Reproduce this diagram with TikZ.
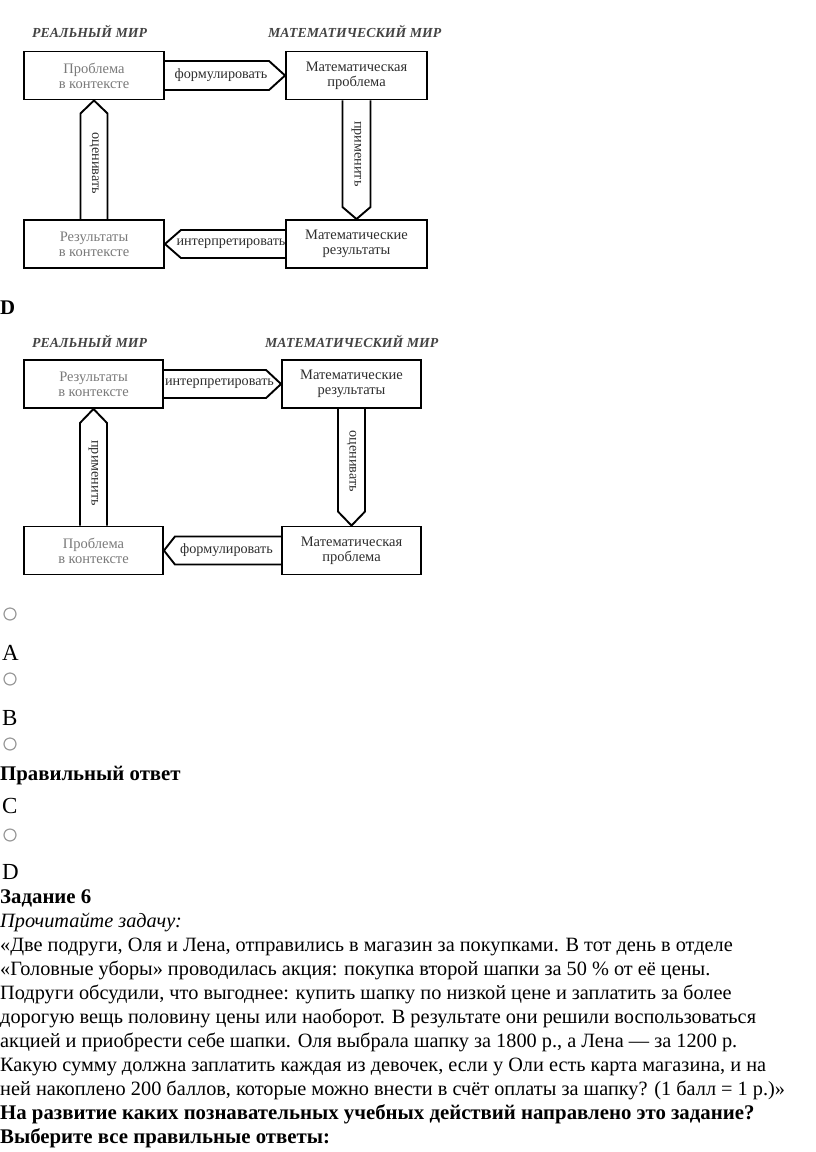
\documentclass[tikz,border=0pt]{standalone}
\usepackage{fontspec}
\setmainfont{Liberation Serif}
\usetikzlibrary{calc}
\definecolor{realtxt}{HTML}{7A7A7A}
\definecolor{mathtxt}{HTML}{2E2E2E}
\definecolor{hdrtxt}{HTML}{444444}
\definecolor{radio}{HTML}{9A9A9A}
\begin{document}
\begin{tikzpicture}[x=1pt,y=-1pt,
  box/.style={draw, line width=1.9pt, minimum width=140pt, minimum height=48pt, inner sep=0pt, align=center, fill=white, font=\fontsize{14.5}{15}\selectfont},
  realbox/.style={box, text=realtxt},
  mathbox/.style={box, text=mathtxt},
  arr/.style={draw, line width=1.9pt, line join=miter},
  lbl/.style={inner sep=0pt, text=mathtxt, font=\fontsize{14.2}{15}\selectfont},
  hdr/.style={inner sep=0pt, anchor=base west, text=hdrtxt, font=\fontsize{13.8}{15}\selectfont\bfseries\itshape},
  txt/.style={inner sep=0pt, anchor=base west, font=\fontsize{20.3}{24}\selectfont},
  btxt/.style={txt, font=\fontsize{20.8}{24}\selectfont\bfseries},
  letter/.style={inner sep=0pt, anchor=base west, font=\fontsize{23}{26}\selectfont},
  radiobtn/.style={draw=radio, fill=white, line width=1.2pt}
]
\useasboundingbox (0,0) rectangle (816,1152);

% ---------- top diagram ----------
\node[hdr] (h1) at (32,37) {РЕАЛЬНЫЙ МИР};
\node[hdr] (h2) at (268,37) {МАТЕМАТИЧЕСКИЙ МИР};
\node[realbox] (b1) at (94,75.5) {Проблема\\в контексте};
\node[mathbox, minimum width=141pt] (b2) at (356.5,75.5) {Математическая\\проблема};
\node[realbox] (b3) at (94,244) {Результаты\\в контексте};
\node[mathbox, minimum width=141pt] (b4) at (356.5,244) {Математические\\результаты};

\draw[arr] ($(b1.east)+(0,-14.5)$) -- ($(b2.west)+(-16,-14.5)$) -- (b2.west) -- ($(b2.west)+(-16,14.5)$) -- ($(b1.east)+(0,14.5)$);
\node[lbl] (l1) at ($(b1.east)!0.5!(b2.west)+(-4,0)$) {формулировать};

\draw[arr] ($(b2.south)+(-14,0)$) -- ($(b4.north)+(-14,-12)$) -- (b4.north) -- ($(b4.north)+(14,-12)$) -- ($(b2.south)+(14,0)$);
\node[lbl, rotate=-90] (l2) at ($(b2.south)!0.45!(b4.north)$) {применить};

\draw[arr] ($(b4.west)+(0,-14)$) -- ($(b3.east)+(16,-14)$) -- (b3.east) -- ($(b3.east)+(16,14)$) -- ($(b4.west)+(0,14)$);
\node[lbl] (l3) at ($(b3.east)!0.5!(b4.west)+(6,0)$) {интерпретировать};

\draw[arr] ($(b3.north)+(-13.5,0)$) -- ($(b1.south)+(-13.5,13)$) -- (b1.south) -- ($(b1.south)+(13.5,13)$) -- ($(b3.north)+(13.5,0)$);
\node[lbl, rotate=-90] (l4) at ($(b1.south)!0.53!(b3.north)$) {оценивать};

% ---------- label D ----------
\node[btxt] (dlab) at (0,314) {D};

% ---------- second diagram ----------
\node[hdr] (k1) at (32,347) {РЕАЛЬНЫЙ МИР};
\node[hdr] (k2) at (265,347) {МАТЕМАТИЧЕСКИЙ МИР};
\node[realbox, minimum width=139pt] (c1) at (93.5,384) {Результаты\\в контексте};
\node[mathbox, minimum width=139pt] (c2) at (351.5,384) {Математические\\результаты};
\node[realbox, minimum width=139pt] (c3) at (93.5,550.5) {Проблема\\в контексте};
\node[mathbox, minimum width=139pt] (c4) at (351.5,550.5) {Математическая\\проблема};

\draw[arr] ($(c1.east)+(0,-14)$) -- ($(c2.west)+(-15,-14)$) -- (c2.west) -- ($(c2.west)+(-15,14)$) -- ($(c1.east)+(0,14)$);
\node[lbl] (m1) at ($(c1.east)!0.5!(c2.west)+(-3,0)$) {интерпретировать};

\draw[arr] ($(c2.south)+(-13.5,0)$) -- ($(c4.north)+(-13.5,-14)$) -- (c4.north) -- ($(c4.north)+(13.5,-14)$) -- ($(c2.south)+(13.5,0)$);
\node[lbl, rotate=-90] (m2) at ($(c2.south)!0.45!(c4.north)$) {оценивать};

\draw[arr] ($(c4.west)+(0,-14)$) -- ($(c3.east)+(11,-14)$) -- (c3.east) -- ($(c3.east)+(11,14)$) -- ($(c4.west)+(0,14)$);
\node[lbl] (m3) at ($(c3.east)!0.5!(c4.west)+(4,0)$) {формулировать};

\draw[arr] ($(c3.north)+(-13.5,0)$) -- ($(c1.south)+(-13.5,14)$) -- (c1.south) -- ($(c1.south)+(13.5,14)$) -- ($(c3.north)+(13.5,0)$);
\node[lbl, rotate=-90] (m4) at ($(c1.south)!0.55!(c3.north)$) {применить};

% ---------- options ----------
\draw[radiobtn] (10,614) circle (6);
\node[letter] (oa) at (2,660) {A};
\draw[radiobtn] (10,679) circle (6);
\node[letter] (ob) at (2,725) {B};
\draw[radiobtn] (10,744) circle (6);
\node[btxt] (ans) at (0,780) {Правильный ответ};
\node[letter] (oc) at (2,813) {C};
\draw[radiobtn] (10,835) circle (6);
\node[letter] (od) at (2,879) {D};

% ---------- task text ----------
\node[btxt] (t0) at (0,903) {Задание 6};
\node[txt, font=\fontsize{20.3}{24}\selectfont\itshape] (t1) at (0,927) {Прочитайте задачу:};
\node[txt] (t2) at (0,951) {«Две подруги, Оля и Лена, отправились в магазин за покупками. В тот день в отделе};
\node[txt] (t3) at (0,975) {«Головные уборы» проводилась акция: покупка второй шапки за 50 \% от её цены.};
\node[txt] (t4) at (0,999) {Подруги обсудили, что выгоднее: купить шапку по низкой цене и заплатить за более};
\node[txt] (t5) at (0,1023) {дорогую вещь половину цены или наоборот. В результате они решили воспользоваться};
\node[txt] (t6) at (0,1047) {акцией и приобрести себе шапки. Оля выбрала шапку за 1800 р., а Лена — за 1200 р.};
\node[txt] (t7) at (0,1071) {Какую сумму должна заплатить каждая из девочек, если у Оли есть карта магазина, и на};
\node[txt] (t8) at (0,1095) {ней накоплено 200 баллов, которые можно внести в счёт оплаты за шапку? (1 балл = 1 р.)»};
\node[btxt] (t9) at (0,1119) {На развитие каких познавательных учебных действий направлено это задание?};
\node[btxt] (t10) at (0,1143) {Выберите все правильные ответы:};
\end{tikzpicture}
\end{document}
